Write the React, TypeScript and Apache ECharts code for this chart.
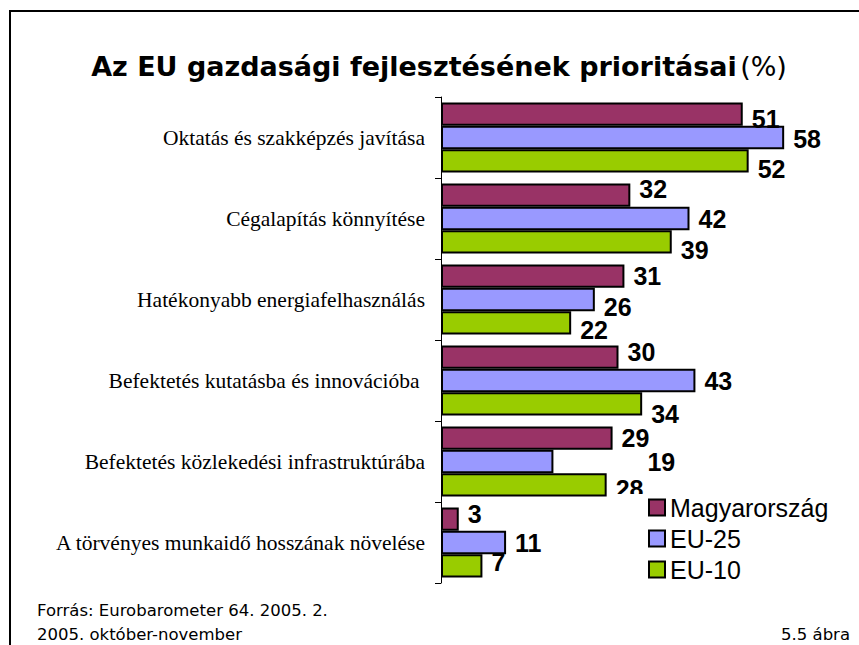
import React, { useEffect, useRef } from "react";
import * as echarts from "echarts";

const categories = [
  "Oktatás és szakképzés javítása",
  "Cégalapítás könnyítése",
  "Hatékonyabb energiafelhasználás",
  "Befektetés kutatásba és innovációba ",
  "Befektetés közlekedési infrastruktúrába",
  "A törvényes munkaidő hosszának növelése",
];
const seriesNames = ["Magyarország", "EU-25", "EU-10"];
const magyarorszag = [51, 32, 31, 30, 29, 3];
const eu25 = [58, 42, 26, 43, 19, 11];
const eu10 = [52, 39, 22, 34, 28, 7];
const colors = ["#993366", "#9999FF", "#99CC00"];

// label nudges (dx, dy) per series per category, as placed in the original
const labelNudges: number[][][] = [
  [[0, 5], [0, -6], [0, 0], [0, -5], [0, 0], [0, -5]],
  [[0, 1], [0, 0], [0, 7], [0, 0], [85, 0], [0, 0]],
  [[0, 8], [0, 8], [0, 7], [0, 10], [0, 4], [0, -4]],
];

const SANS = "Liberation Sans, Arial, sans-serif";
const WIDE = "DejaVu Sans, Verdana, sans-serif";

export default function App() {
  const ref = useRef<HTMLDivElement>(null);
  useEffect(() => {
    if (!ref.current) return;
    const chart = echarts.init(ref.current, null, { renderer: "svg" });
    const all = [magyarorszag, eu25, eu10];
    const series = all.map((vals, si) => ({
      name: seriesNames[si],
      type: "bar",
      barGap: "0%",
      barCategoryGap: "13.6%",
      itemStyle: { color: colors[si], borderColor: "#000", borderWidth: 2 },
      label: {
        show: true,
        position: "right",
        distance: 9,
        fontFamily: SANS,
        fontWeight: "bold",
        fontSize: 25,
        color: "#000",
      },
      z: 2,
      data: vals.map((v, ci) => ({
        value: v,
        label: { offset: labelNudges[si][ci] },
      })),
    }));
    chart.setOption({
      animation: false,
      backgroundColor: "#fff",
      grid: { left: 441, top: 97, height: 486, width: 355, containLabel: false },
      xAxis: { type: "value", min: 0, max: 60, show: false },
      yAxis: {
        type: "category",
        inverse: true,
        data: categories,
        axisLine: { show: true, lineStyle: { color: "#000", width: 1 } },
        axisTick: { show: true, length: 6, lineStyle: { color: "#000" } },
        axisLabel: {
          margin: 16,
          fontFamily: "Liberation Serif, Times New Roman, serif",
          fontSize: 21.5,
          color: "#000",
        },
      },
      legend: {
        orient: "vertical",
        left: 615,
        top: 494,
        padding: [1, 10, 4, 33],
        backgroundColor: "#fff",
        itemWidth: 16,
        itemHeight: 16,
        itemGap: 6,
        icon: "rect",
        z: 10,
        data: seriesNames,
        textStyle: {
          fontFamily: SANS,
          fontSize: 25,
          color: "#000",
          lineHeight: 25,
        },
      },
      graphic: [
        {
          type: "polyline",
          shape: { points: [[10, 700], [10, 11], [900, 11]] },
          style: { stroke: "#000", lineWidth: 2, fill: "none" },
        },
        {
          type: "text",
          x: 439,
          y: 66,
          style: {
            text: "{b|Az EU gazdasági fejlesztésének prioritásai} {n|(%)}",
            align: "center",
            verticalAlign: "middle",
            rich: {
              b: { fontFamily: WIDE, fontWeight: "bold", fontSize: 27, fill: "#000" },
              n: { fontFamily: WIDE, fontSize: 27, fill: "#000" },
            },
          },
        },
        {
          type: "text",
          x: 37,
          y: 610,
          style: {
            text: "Forrás: Eurobarometer 64. 2005. 2.",
            verticalAlign: "middle",
            fontFamily: WIDE,
            fontSize: 16.5,
            fill: "#000",
          },
        },
        {
          type: "text",
          x: 37,
          y: 634,
          style: {
            text: "2005. október-november",
            verticalAlign: "middle",
            fontFamily: WIDE,
            fontSize: 16.5,
            fill: "#000",
          },
        },
        {
          type: "text",
          x: 850,
          y: 634,
          style: {
            text: "5.5 ábra",
            align: "right",
            verticalAlign: "middle",
            fontFamily: WIDE,
            fontSize: 16.5,
            fill: "#000",
          },
        },
      ],
      series,
    });
    return () => chart.dispose();
  }, []);
  return (
    <div
      ref={ref}
      style={{ position: "fixed", left: 0, top: 0, width: 859, height: 645 }}
    />
  );
}
